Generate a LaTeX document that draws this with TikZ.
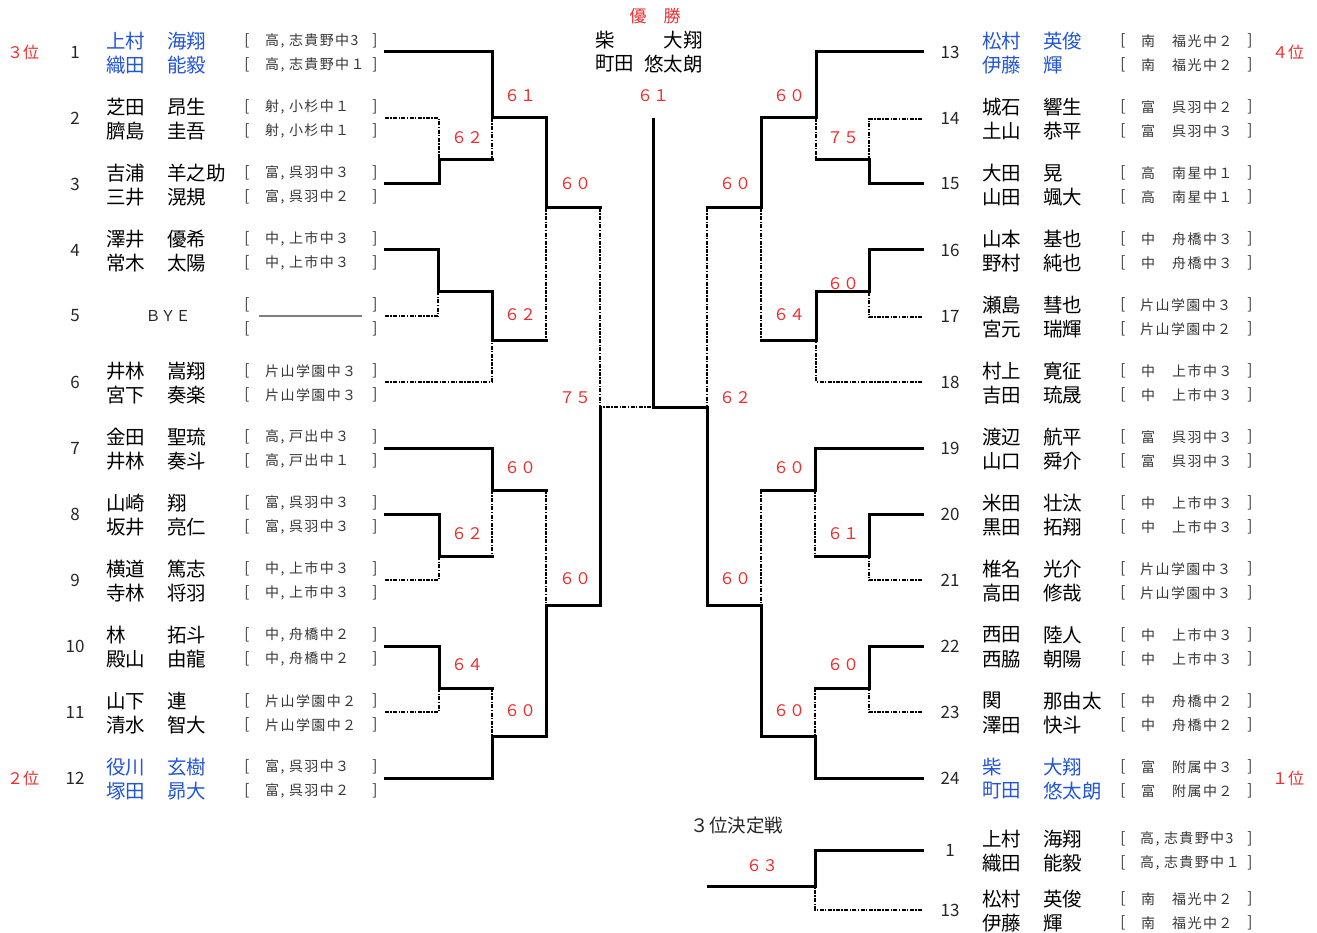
\documentclass[tikz,border=0pt]{standalone}
\usepackage{fontspec}
\setmainfont{Noto Sans CJK JP}
\newfontfamily\afffont[LetterSpace=10]{Noto Sans CJK JP}
\definecolor{scorered}{RGB}{240,45,45}
\definecolor{nameblue}{RGB}{35,85,215}
\definecolor{afftext}{RGB}{55,55,55}
\tikzset{
  win/.style={line width=3pt, line cap=rect},
  lose/.style={line width=1.6pt, dash pattern=on 4pt off 1.4pt on 1.4pt off 1.4pt},
  nm/.style={font=\fontsize{19.5}{21}\selectfont, inner sep=0pt, anchor=west},
  aff/.style={font=\afffont\fontsize{14}{15}\selectfont, text=afftext, inner sep=0pt, anchor=west},
  brk/.style={font=\fontsize{15}{16}\selectfont, text=afftext, inner sep=0pt},
  num/.style={font=\fontsize{17}{18}\selectfont, text=black!85, inner sep=0pt},
  score/.style={font=\fontsize{16}{17}\selectfont, text=scorered, inner sep=0pt},
  rank/.style={font=\fontsize{16}{17}\selectfont, text=scorered, inner sep=0pt},
  title/.style={font=\fontsize{18.5}{20}\selectfont, text=black!85, inner sep=0pt},
}
\newcommand{\LRow}[5]{%
  \node[nm] (#1s) at (106,#2) {#3};
  \node[nm] (#1g) at (167,#2) {#4};
  \node[brk] (#1o) at (247,#2) {[};
  \node[aff] (#1a) at (265,#2) {#5};
  \node[brk] (#1c) at (375,#2) {]};}
\newcommand{\RRow}[6]{%
  \node[nm] (#1s) at (982,#2) {#3};
  \node[nm] (#1g) at (1043,#2) {#4};
  \node[brk] (#1o) at (1123,#2) {[};
  \node[aff,anchor=center] (#1p) at (1148,#2) {#5};
  \node[aff] (#1a) at (1172,#2) {#6};
  \node[brk] (#1c) at (1250,#2) {]};}
\newcommand{\RRowK}[5]{%
  \node[nm] (#1s) at (982,#2) {#3};
  \node[nm] (#1g) at (1043,#2) {#4};
  \node[brk] (#1o) at (1123,#2) {[};
  \node[aff] (#1a) at (1140,#2) {#5};
  \node[brk] (#1c) at (1250,#2) {]};}
\begin{document}
\begin{tikzpicture}[x=1pt,y=-1pt]
\useasboundingbox[fill=white] (0,0) rectangle (1317,933);

% ---------- losing (dashed) segments ----------
\draw[lose] (385,118) -| (439,160);
\draw[lose] (492,118) -- (492,160);
\draw[lose] (385,316) -| (438,292);
\draw[lose] (385,382) -| (492,340);
\draw[lose] (546,208) -- (546,340);
\draw[lose] (385,580) -| (439,556);
\draw[lose] (492,490) -- (492,556);
\draw[lose] (385,712) -| (439,688);
\draw[lose] (492,688) -- (492,736);
\draw[lose] (546,490) -- (546,605);
\draw[lose] (600,208) -- (600,407) -- (653,407);
\draw[lose] (922,119) -| (869,160);
\draw[lose] (816,118) -- (816,160);
\draw[lose] (922,317) -| (869,292);
\draw[lose] (922,382) -| (816,340);
\draw[lose] (761,208) -- (761,340);
\draw[lose] (922,580) -| (869,556);
\draw[lose] (815,490) -- (815,556);
\draw[lose] (922,712) -| (869,688);
\draw[lose] (815,688) -- (815,736);
\draw[lose] (761,490) -- (761,605);
\draw[lose] (707,208) -- (707,407);
\draw[lose] (922,910) -| (815,886);

% ---------- winning (solid) paths ----------
\draw[win] (385,52) -| (492,118) -| (546,208) -- (600,208);
\draw[win] (385,184) -| (439,160) -- (492,160);
\draw[win] (385,250) -| (438,292) -| (492,340) -- (546,340);
\draw[win] (385,448) -| (492,490) -- (546,490);
\draw[win] (385,514) -| (439,556) -- (492,556);
\draw[win] (385,646) -| (439,688) -- (492,688);
\draw[win] (385,778) -| (492,736) -| (546,605) -| (600,407);
\draw[win] (922,52) -| (816,118) -| (761,208) -- (707,208);
\draw[win] (922,184) -| (869,160) -- (816,160);
\draw[win] (922,250) -| (869,292) -| (816,340) -- (761,340);
\draw[win] (922,448) -| (815,490) -- (761,490);
\draw[win] (922,514) -| (869,556) -- (815,556);
\draw[win] (922,646) -| (869,688) -- (815,688);
\draw[win] (922,778) -| (815,736) -| (761,605) -| (707,407) -- (653,407) -- (653,120);
\draw[win] (922,850) -| (815,886) -- (708,886);

% ---------- scores ----------
\node[score] (s1) at (520,96) {６１};
\node[score] (s2) at (467,138) {６２};
\node[score] (s3) at (575,184) {６０};
\node[score] (s4) at (520,315) {６２};
\node[score] (s5) at (575,398) {７５};
\node[score] (s6) at (520,468) {６０};
\node[score] (s7) at (467,534) {６２};
\node[score] (s8) at (575,579) {６０};
\node[score] (s9) at (467,665) {６４};
\node[score] (s10) at (520,711) {６０};
\node[score] (s11) at (653,96) {６１};
\node[score] (s12) at (789,96) {６０};
\node[score] (s13) at (843,138) {７５};
\node[score] (s14) at (735,184) {６０};
\node[score] (s15) at (843,284) {６０};
\node[score] (s16) at (789,315) {６４};
\node[score] (s17) at (735,398) {６２};
\node[score] (s18) at (789,468) {６０};
\node[score] (s19) at (843,534) {６１};
\node[score] (s20) at (735,579) {６０};
\node[score] (s21) at (843,665) {６０};
\node[score] (s22) at (789,711) {６０};
\node[score] (s23) at (762,866) {６３};

% ---------- champion ----------
\node[rank,font=\fontsize{17}{18}\selectfont] (champ) at (655,16) {優　勝};
\node[nm] (c1s) at (595,40) {柴};
\node[nm,anchor=east] (c1g) at (703,40) {大翔};
\node[nm] (c2s) at (595,64) {町田};
\node[nm,anchor=east] (c2g) at (703,64) {悠太朗};

% ---------- ranks ----------
\node[rank] (r3) at (23,52) {３位};
\node[rank] (r2) at (23,778) {２位};
\node[rank] (r4) at (1288,52) {４位};
\node[rank] (r1) at (1288,778) {１位};

% ---------- left teams ----------
\foreach \n/\y in {1/52,2/118,3/184,4/250,5/316,6/382,7/448,8/514,9/580,10/646,11/712,12/778}
  \node[num] (ln\n) at (75,\y) {\n};
\begin{scope}[nm/.append style={text=nameblue}]
\LRow{t1a}{41}{上村}{海翔}{高, 志貴野中3}
\LRow{t1b}{65}{織田}{能毅}{高, 志貴野中１}
\end{scope}
\LRow{t2a}{107}{芝田}{昂生}{射, 小杉中１}
\LRow{t2b}{131}{臍島}{圭吾}{射, 小杉中１}
\LRow{t3a}{173}{吉浦}{羊之助}{富, 呉羽中３}
\LRow{t3b}{197}{三井}{滉規}{富, 呉羽中２}
\LRow{t4a}{239}{澤井}{優希}{中, 上市中３}
\LRow{t4b}{263}{常木}{太陽}{中, 上市中３}
\node[font=\fontsize{15}{16}\selectfont, text=black!85, inner sep=0pt] (bye) at (168,316) {ＢＹＥ};
\node[brk] (t5ao) at (247,305) {[};
\node[brk] (t5ac) at (375,305) {]};
\node[brk] (t5bo) at (247,329) {[};
\node[brk] (t5bc) at (375,329) {]};
\draw[gray, line width=1.2pt] (259,316) -- (362,316);
\LRow{t6a}{371}{井林}{嵩翔}{片山学園中３}
\LRow{t6b}{395}{宮下}{奏楽}{片山学園中３}
\LRow{t7a}{437}{金田}{聖琉}{高, 戸出中３}
\LRow{t7b}{461}{井林}{奏斗}{高, 戸出中１}
\LRow{t8a}{503}{山崎}{翔}{富, 呉羽中３}
\LRow{t8b}{527}{坂井}{亮仁}{富, 呉羽中３}
\LRow{t9a}{569}{横道}{篤志}{中, 上市中３}
\LRow{t9b}{593}{寺林}{将羽}{中, 上市中３}
\LRow{t10a}{635}{林}{拓斗}{中, 舟橋中２}
\LRow{t10b}{659}{殿山}{由龍}{中, 舟橋中２}
\LRow{t11a}{701}{山下}{連}{片山学園中２}
\LRow{t11b}{725}{清水}{智大}{片山学園中２}
\begin{scope}[nm/.append style={text=nameblue}]
\LRow{t12a}{767}{役川}{玄樹}{富, 呉羽中３}
\LRow{t12b}{791}{塚田}{昴大}{富, 呉羽中２}
\end{scope}

% ---------- right teams ----------
\foreach \n/\y in {13/52,14/118,15/184,16/250,17/316,18/382,19/448,20/514,21/580,22/646,23/712,24/778}
  \node[num] (rn\n) at (950,\y) {\n};
\begin{scope}[nm/.append style={text=nameblue}]
\RRow{t13a}{41}{松村}{英俊}{南}{福光中２}
\RRow{t13b}{65}{伊藤}{輝}{南}{福光中２}
\end{scope}
\RRow{t14a}{107}{城石}{響生}{富}{呉羽中２}
\RRow{t14b}{131}{土山}{恭平}{富}{呉羽中３}
\RRow{t15a}{173}{大田}{晃}{高}{南星中１}
\RRow{t15b}{197}{山田}{颯大}{高}{南星中１}
\RRow{t16a}{239}{山本}{基也}{中}{舟橋中３}
\RRow{t16b}{263}{野村}{純也}{中}{舟橋中３}
\RRowK{t17a}{305}{瀬島}{彗也}{片山学園中３}
\RRowK{t17b}{329}{宮元}{瑞輝}{片山学園中２}
\RRow{t18a}{371}{村上}{寛征}{中}{上市中３}
\RRow{t18b}{395}{吉田}{琉晟}{中}{上市中３}
\RRow{t19a}{437}{渡辺}{航平}{富}{呉羽中３}
\RRow{t19b}{461}{山口}{舜介}{富}{呉羽中３}
\RRow{t20a}{503}{米田}{壮汰}{中}{上市中３}
\RRow{t20b}{527}{黒田}{拓翔}{中}{上市中３}
\RRowK{t21a}{569}{椎名}{光介}{片山学園中３}
\RRowK{t21b}{593}{高田}{修哉}{片山学園中３}
\RRow{t22a}{635}{西田}{陸人}{中}{上市中３}
\RRow{t22b}{659}{西脇}{朝陽}{中}{上市中３}
\RRow{t23a}{701}{関}{那由太}{中}{舟橋中２}
\RRow{t23b}{725}{澤田}{快斗}{中}{舟橋中２}
\begin{scope}[nm/.append style={text=nameblue}]
\RRow{t24a}{767}{柴}{大翔}{富}{附属中３}
\RRow{t24b}{791}{町田}{悠太朗}{富}{附属中２}
\end{scope}

% ---------- third-place match ----------
\node[title] (third) at (737,826) {３位決定戦};
\node[num] (tp1) at (950,850) {1};
\node[num] (tp13) at (950,910) {13};
\RRowK{p1a}{839}{上村}{海翔}{高, 志貴野中3}
\RRowK{p1b}{863}{織田}{能毅}{高, 志貴野中１}
\RRow{p13a}{899}{松村}{英俊}{南}{福光中２}
\RRow{p13b}{923}{伊藤}{輝}{南}{福光中２}
\end{tikzpicture}
\end{document}
